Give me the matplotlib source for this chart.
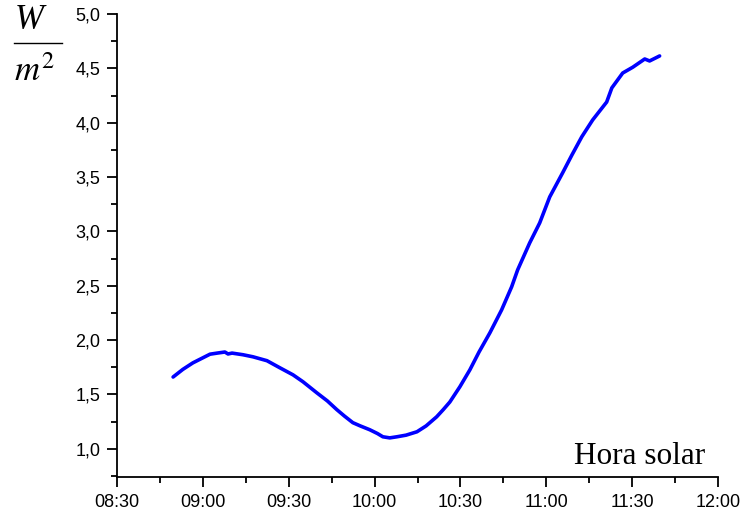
import matplotlib
matplotlib.use("Agg")
import matplotlib.pyplot as plt
from matplotlib.lines import Line2D
from matplotlib.ticker import FuncFormatter, MultipleLocator

# time in minutes since midnight, irradiance in W/m2 (as labelled)
minutes = [529.6, 533, 536.5, 539.5, 542.5, 545, 547.7, 548.8, 550.2, 554, 557.5, 562.4,
           566.9, 571.5, 575, 579.8, 583.5, 586.8, 589.5, 592.4, 595, 598.3, 601, 602.9,
           605.3, 607.8, 611, 614.8, 618, 621.7, 624, 626.3, 629.8, 633.3, 636.5, 640.3,
           644.4, 647.9, 650, 654.2, 657.7, 661.2, 665.7, 668.9, 672.4, 676.2, 681.1,
           682.9, 686.7, 690.2, 694.4, 696.1, 699.6]
values = [1.66, 1.73, 1.79, 1.83, 1.87, 1.88, 1.89, 1.872, 1.88, 1.865, 1.846, 1.81,
          1.745, 1.68, 1.616, 1.515, 1.44, 1.36, 1.30, 1.24, 1.21, 1.175, 1.14, 1.11,
          1.10, 1.11, 1.125, 1.156, 1.21, 1.294, 1.36, 1.43, 1.57, 1.726, 1.89, 2.067,
          2.278, 2.49, 2.646, 2.894, 3.078, 3.317, 3.538, 3.70, 3.87, 4.025, 4.19,
          4.32, 4.457, 4.51, 4.586, 4.568, 4.614]

x_range = (510, 720)
y_range = (0.74, 5.0)

fig = plt.figure(figsize=(7.49, 5.17), dpi=100)
ax = fig.add_axes([117 / 749, 1 - 477 / 517, (718 - 117) / 749, (477 - 14) / 517])

ax.plot(minutes, values, color="#0000FF", linewidth=2.6, solid_joinstyle="round",
        solid_capstyle="round")

ax.set_xlim(*x_range)
ax.set_ylim(*y_range)

ax.spines["top"].set_visible(False)
ax.spines["right"].set_visible(False)
for side in ("left", "bottom"):
    ax.spines[side].set_linewidth(1.3)

ax.xaxis.set_major_locator(MultipleLocator(30))
ax.xaxis.set_minor_locator(MultipleLocator(15))
ax.yaxis.set_major_locator(MultipleLocator(0.5))
ax.yaxis.set_minor_locator(MultipleLocator(0.25))
ax.xaxis.set_major_formatter(FuncFormatter(lambda v, _: f"{int(v) // 60:02d}:{int(v) % 60:02d}"))
ax.yaxis.set_major_formatter(FuncFormatter(lambda v, _: f"{v:.1f}".replace(".", ",")))

ax.tick_params(which="major", length=7, width=1.3, direction="out", pad=5)
ax.tick_params(which="minor", length=4, width=1.3, direction="out")
for label in ax.get_xticklabels() + ax.get_yticklabels():
    label.set_fontfamily("Liberation Sans")
    label.set_fontsize(13)

fig.text(705 / 749, 1 - 464 / 517, "Hora solar", family="Liberation Serif",
         fontsize=22.5, ha="right", va="baseline")

# unit label: W over m^2
fig.text(29 / 749, 1 - 29 / 517, "W", family="Liberation Serif", style="italic",
         fontsize=25, ha="center", va="baseline")
fig.add_artist(Line2D([14 / 749, 62 / 749], [1 - 43 / 517, 1 - 43 / 517],
                      color="black", linewidth=1.0))
fig.text(34 / 749, 1 - 81 / 517, "$\\mathit{m}^{2}$", fontsize=25, ha="center",
         va="baseline", math_fontfamily="stix")

fig.savefig("out.png", dpi=100)
